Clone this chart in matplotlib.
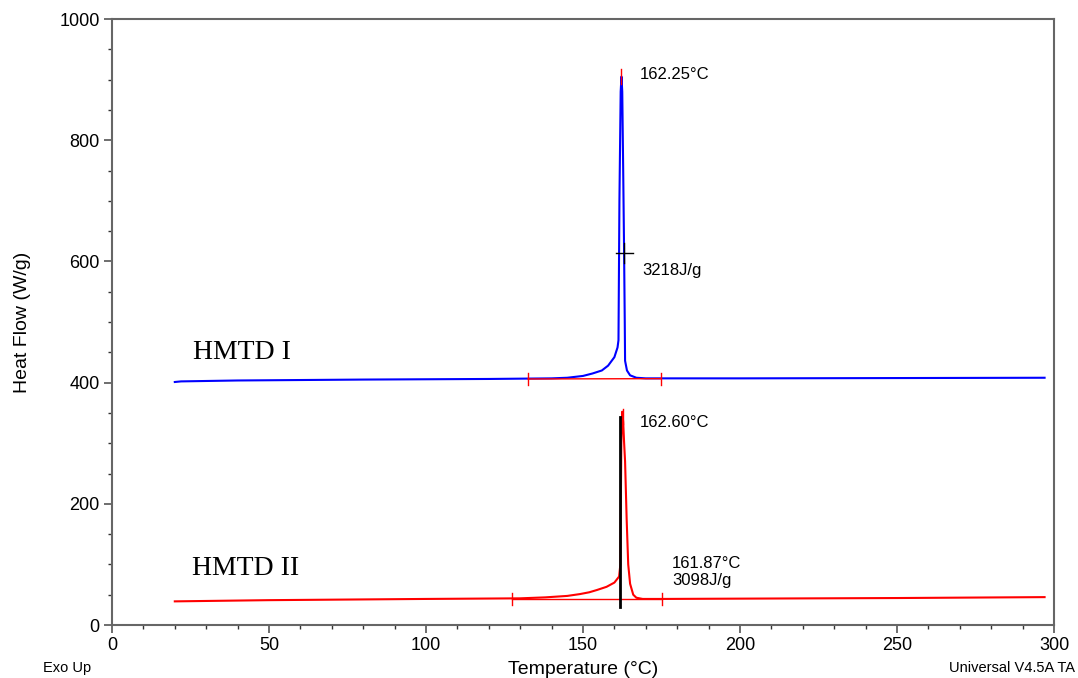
import matplotlib
matplotlib.use("Agg")
import matplotlib.pyplot as plt
from matplotlib.ticker import MultipleLocator

# ---- data ----
hmtd1_temp = [20, 22, 40, 80, 120, 140, 145, 150, 153, 156, 158, 160, 161, 161.3,
              161.6, 162.0, 162.25, 162.5, 162.8, 163.05, 163.3, 163.4, 164, 165,
              167, 170, 200, 250, 297]
hmtd1_flow = [401, 402, 403.5, 405, 406, 407, 408, 411, 415, 420, 428, 442, 458, 470,
              700, 880, 905, 880, 750, 634, 500, 436, 420, 412,
              408, 407, 407, 407.5, 408]

hmtd2_temp = [20, 50, 100, 130, 138, 145, 149, 152, 154.4, 157.5, 160, 161.5, 161.9,
              162.2, 162.5, 162.8, 163.1, 163.4, 163.9, 164.4, 165, 166, 167, 169,
              175, 200, 250, 297]
hmtd2_flow = [39, 41, 43, 44, 45.6, 48, 51, 54, 57.7, 63, 70, 80, 100,
              300, 352, 335, 300, 270, 175, 100, 68, 50, 45, 43,
              43, 43.5, 44.5, 46]

hmtd1_base_t = [132.5, 174.8]
hmtd1_base_y = [406, 406.5]
hmtd1_peak_t = 162.25
hmtd1_peak_top = 917
hmtd1_cross = (163.2, 614)

hmtd2_base_t = [127.5, 175.3]
hmtd2_base_y = [43, 43]
hmtd2_peak_t = 162.60
hmtd2_peak_top = 357
hmtd2_onset_t = 161.87
hmtd2_onset_span = [30, 343]

x_ticks = [0, 50, 100, 150, 200, 250, 300]
y_ticks = [0, 200, 400, 600, 800, 1000]

plt.rcParams['font.family'] = ['Liberation Sans', 'DejaVu Sans']

fig = plt.figure(figsize=(10.78, 6.78), dpi=100)
ax = fig.add_axes([112/1078, 53/678, (1054-112)/1078, (625-19)/678])

ax.plot(hmtd1_temp, hmtd1_flow, color='#0000ff', lw=1.5)
ax.plot(hmtd2_temp, hmtd2_flow, color='#ff0000', lw=1.5)

# integration baselines and limit ticks
ax.plot(hmtd1_base_t, hmtd1_base_y, color='#ff0000', lw=1.0)
for t, y in zip(hmtd1_base_t, hmtd1_base_y):
    ax.plot([t, t], [y - 10, y + 10], color='#ff0000', lw=1.0)
ax.plot([hmtd1_peak_t, hmtd1_peak_t], [hmtd1_peak_top - 25, hmtd1_peak_top], color='#ff0000', lw=1.0)
cx, cy = hmtd1_cross
ax.plot([cx - 2.7, cx + 2.7], [cy, cy], color='black', lw=1.0)
ax.plot([cx, cx], [cy - 17, cy + 17], color='black', lw=1.0)

ax.plot(hmtd2_base_t, hmtd2_base_y, color='#ff0000', lw=1.0)
for t, y in zip(hmtd2_base_t, hmtd2_base_y):
    ax.plot([t, t], [y - 10, y + 10], color='#ff0000', lw=1.0)
ax.plot([hmtd2_onset_t, hmtd2_onset_t], hmtd2_onset_span, color='black', lw=2.0)
ax.plot([hmtd2_peak_t, hmtd2_peak_t], [hmtd2_peak_top - 25, hmtd2_peak_top], color='#ff0000', lw=1.0)

# annotations
ax.text(168.2, 909, '162.25°C', fontsize=12, va='center', ha='left')
ax.text(168.8, 585, '3218J/g', fontsize=12, va='center', ha='left')
ax.text(168.2, 334, '162.60°C', fontsize=12, va='center', ha='left')
ax.text(178.3, 102, '161.87°C', fontsize=12, va='center', ha='left')
ax.text(178.3, 74, '3098J/g', fontsize=12, va='center', ha='left')

ax.text(25.8, 449, 'HMTD I', fontsize=20, va='center', ha='left', family=['Liberation Serif'])
ax.text(25.5, 94, 'HMTD II', fontsize=20, va='center', ha='left', family=['Liberation Serif'])

ax.set_xlim(0, 300)
ax.set_ylim(0, 1000)
ax.set_xticks(x_ticks)
ax.set_yticks(y_ticks)
ax.xaxis.set_minor_locator(MultipleLocator(10))
ax.yaxis.set_minor_locator(MultipleLocator(50))
ax.tick_params(which='major', direction='out', length=6, width=1.2, color='#555555', labelsize=13, pad=3)
ax.tick_params(which='minor', direction='out', length=3, width=1.0, color='#333333')
for s in ax.spines.values():
    s.set_color('#666666')
    s.set_linewidth(1.5)

ax.set_ylabel('Heat Flow (W/g)', fontsize=14, labelpad=20)
ax.set_xlabel('Temperature (°C)', fontsize=14, labelpad=5)

fig.text(43/1078, 1 - 668/678, 'Exo Up', fontsize=10.5, va='center', ha='left')
fig.text(1075/1078, 1 - 668/678, 'Universal V4.5A TA', fontsize=10.5, va='center', ha='right')

fig.savefig('out.png', dpi=100)
